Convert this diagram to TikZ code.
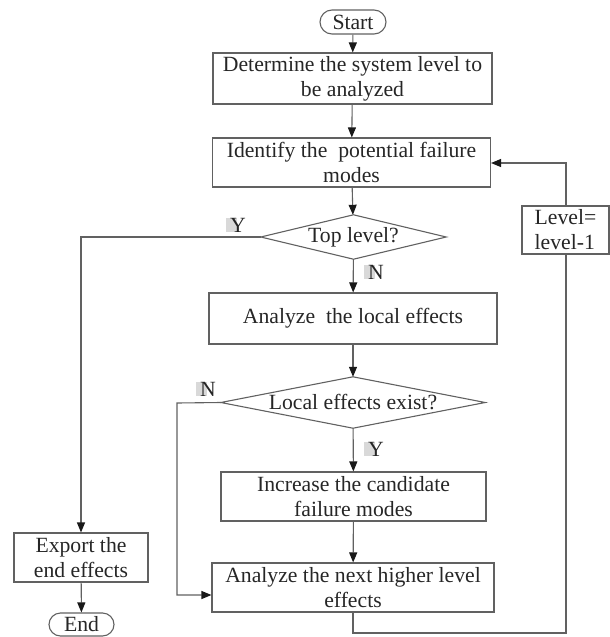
\documentclass[tikz,border=0pt]{standalone}
\usepackage{fontspec}
\setmainfont{Liberation Serif}
\usetikzlibrary{shapes.misc,arrows.meta,calc}
\tikzset{
  every node/.style={font=\fontsize{21.7}{25}\selectfont, text=black!85},
  ln/.style={draw=black!62, line width=1.1pt},
  box/.style={ln, rectangle, align=center, inner sep=0pt},
  term/.style={ln, rounded rectangle, inner sep=0pt},
  dec/.style={rectangle, inner sep=0pt, align=center},
  arr/.style={ln, -{Triangle[length=10pt,width=8pt,color=black!90]}},
  yn/.style={inner sep=0pt},
  hl/.style={fill=black!15}
}
\begin{document}
\begin{tikzpicture}[x=1pt,y=-1pt]
\useasboundingbox (0,0) rectangle (610,637);
\node[term, minimum width=66pt, minimum height=24pt] (start) at (353,22) {Start};
\node[box, minimum width=279pt, minimum height=51pt] (det) at (352.5,78.5) {Determine the system level to\\be analyzed};
\node[box, minimum width=278pt, minimum height=49pt] (ident) at (351.5,162.5) {Identify the\ \ potential failure\\modes};
\node[dec, minimum width=185pt, minimum height=44pt] (top) at (353.5,237) {Top level?};
\draw[ln] (top.north) -- (top.east) -- (top.south) -- (top.west) -- cycle;
\node[box, minimum width=288pt, minimum height=51pt] (local) at (353,318.5) {Analyze\ \ the local effects};
\node[dec, minimum width=264pt, minimum height=51pt] (exist) at (353,402.5) {Local effects exist?};
\draw[ln] (exist.north) -- (exist.east) -- (exist.south) -- (exist.west) -- cycle;
\node[box, minimum width=265pt, minimum height=49pt] (incr) at (353.5,496.5) {Increase the candidate\\failure modes};
\node[box, minimum width=282pt, minimum height=49pt] (next) at (353,587.5) {Analyze the next higher level\\effects};
\node[box, minimum width=134pt, minimum height=49pt] (export) at (81,557.5) {Export the\\end effects};
\node[term, minimum width=65pt, minimum height=23pt] (end) at (81.5,624.5) {End};
\node[box, align=left, minimum width=87pt, minimum height=48pt] (level) at (565.5,230) {Level=\\level-1};

% labels
\coordinate (pY1) at (238,225);
\coordinate (pN1) at (376,272);
\coordinate (pN2) at (208,389);
\coordinate (pY2) at (376,449);
\foreach \p/\t in {pY1/Y,pN1/N,pN2/N,pY2/Y}{
  \node[yn, text=white, opacity=0] (h\p) at (\p) {\t};
  \fill[hl] ([xshift=-4pt]h\p.south west) rectangle ([xshift=-1pt]h\p.north);
}
\node[yn] (lY1) at (pY1) {Y};
\node[yn] (lN1) at (pN1) {N};
\node[yn] (lN2) at (pN2) {N};
\node[yn] (lY2) at (pY2) {Y};

% connectors
\draw[arr] (start) -- (det);
\draw[arr] (det) -- (ident);
\draw[arr] (ident) -- (top);
\draw[arr] (top) -- (local);
\draw[arr] (local) -- (exist);
\draw[arr] (exist) -- (incr);
\draw[arr] (incr) -- (next);
\draw[arr] (export) -- (end);
\coordinate (yl) at (81,237);
\draw[arr] (top.west) -- (yl) -- (export.north);
\coordinate (nl) at (177,403);
\coordinate (nb) at (177,595);
\draw[arr] (exist.west) -- (nl) -- (nb) -- (next.west |- nb);
\coordinate (lb) at (353,633);
\coordinate (rb) at (566,633);
\coordinate (rt) at (566,163);
\draw[ln] (next.south) -- (lb) -- (rb) -- (level.south -| rb);
\draw[arr] (level.north -| rt) -- (rt) -- (ident.east |- rt);
\end{tikzpicture}
\end{document}
